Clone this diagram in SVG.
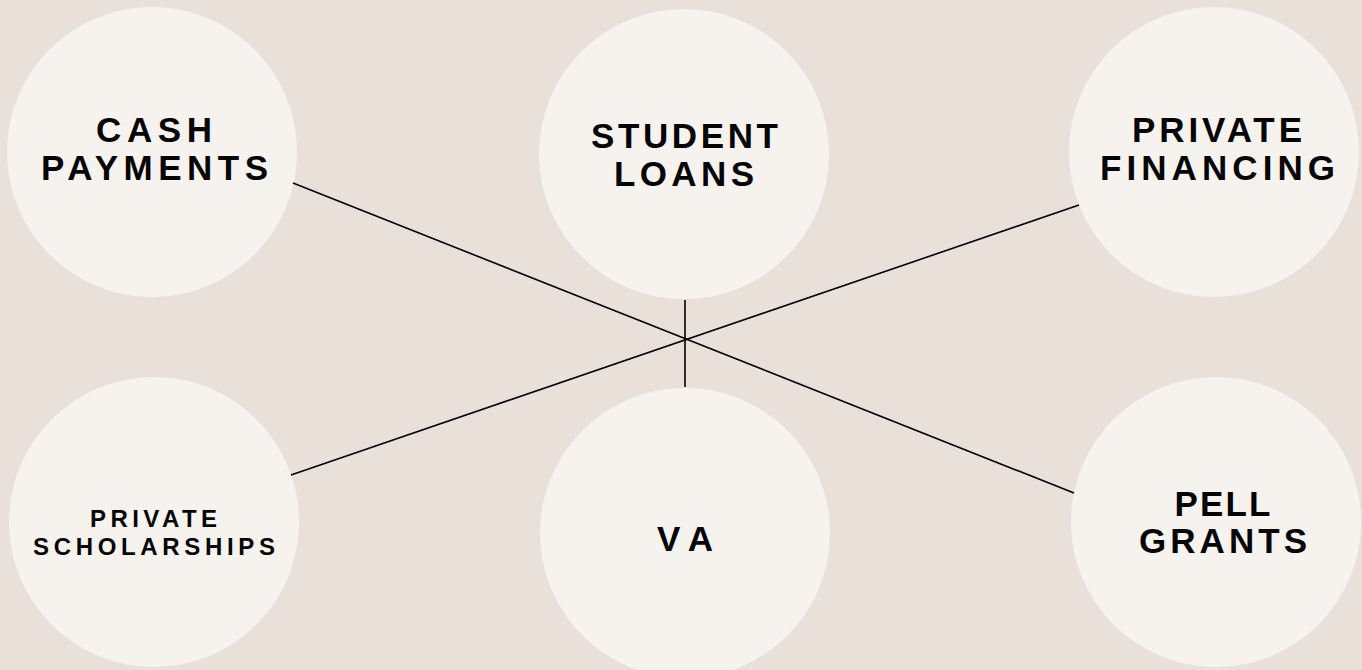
<svg xmlns="http://www.w3.org/2000/svg" width="1362" height="670" viewBox="0 0 1362 670">
<style>
.bg{fill:#e9e1d9}
.node circle{fill:#f6f3ef}
.node text{font-family:"Liberation Sans",Arial,sans-serif;font-weight:700;font-size:35px;fill:#050505;text-anchor:middle}
.node text.sm{font-size:24px}
.conn line{stroke:#000;stroke-width:1.6;fill:none}
</style>
<rect class="bg" x="0" y="0" width="1362" height="670"/>
<g id="nodes">
<g id="cash" class="node">
<circle cx="152" cy="152" r="145"/>
<text x="154" y="142" textLength="116" lengthAdjust="spacing">CASH</text>
<text x="154.5" y="180" textLength="227" lengthAdjust="spacing">PAYMENTS</text>
</g>
<g id="student-loans" class="node">
<circle cx="684" cy="154" r="145"/>
<text x="684.5" y="148" textLength="187" lengthAdjust="spacing">STUDENT</text>
<text x="684" y="186" textLength="140" lengthAdjust="spacing">LOANS</text>
</g>
<g id="private-financing" class="node">
<circle cx="1214" cy="152" r="145"/>
<text x="1217" y="142" textLength="170" lengthAdjust="spacing">PRIVATE</text>
<text x="1217.5" y="180" textLength="235" lengthAdjust="spacing">FINANCING</text>
</g>
<g id="private-scholarships" class="node">
<circle cx="154" cy="522" r="145"/>
<text class="sm" x="153.5" y="527" textLength="127" lengthAdjust="spacing">PRIVATE</text>
<text class="sm" x="154" y="555" textLength="242" lengthAdjust="spacing">SCHOLARSHIPS</text>
</g>
<g id="va" class="node">
<circle cx="685" cy="533" r="145"/>
<text x="685" y="551" textLength="56" lengthAdjust="spacing">VA</text>
</g>
<g id="pell-grants" class="node">
<circle cx="1216" cy="522" r="145"/>
<text x="1222.5" y="516" textLength="96" lengthAdjust="spacing">PELL</text>
<text x="1223" y="553" textLength="168" lengthAdjust="spacing">GRANTS</text>
</g>
</g>
<g id="connectors" class="conn">
<line x1="293" y1="183" x2="1074" y2="493"/>
<line x1="291" y1="475" x2="1079" y2="205"/>
<line x1="685" y1="300" x2="685" y2="387"/>
</g>
</svg>
